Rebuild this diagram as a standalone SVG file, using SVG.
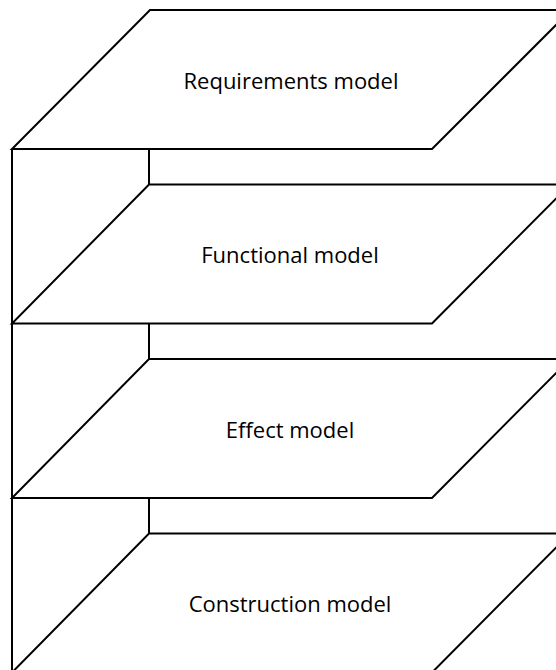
<svg xmlns="http://www.w3.org/2000/svg" width="556" height="670" viewBox="0 0 556 670">
  <style>
    .layer { fill: #ffffff; stroke: #000000; stroke-width: 2; stroke-linejoin: miter; }
    .link { fill: none; stroke: #000000; stroke-width: 2; }
    .label { font-family: "Open Sans", "Liberation Sans", sans-serif; font-size: 22px; fill: #000000; text-anchor: middle; }
  </style>
  <rect width="556" height="670" fill="#ffffff"/>

  <!-- connectors: spine on the left and short drops between layers -->
  <g id="connectors">
    <path class="link" d="M12,149 V672"/>
    <path class="link" d="M149,149 V184.5"/>
    <path class="link" d="M149,323.5 V359"/>
    <path class="link" d="M149,498 V533.5"/>
  </g>

  <g id="requirements">
    <polygon class="layer" points="150,10 571,10 432,149 12,149"/>
    <text class="label" x="291" y="88.5">Requirements model</text>
  </g>

  <g id="functional">
    <polygon class="layer" points="149,184.5 570,184.5 432,323.5 12,323.5"/>
    <text class="label" x="290" y="263">Functional model</text>
  </g>

  <g id="effect">
    <polygon class="layer" points="149,359 570,359 432,498 12,498"/>
    <text class="label" x="290" y="437.5">Effect model</text>
  </g>

  <g id="construction">
    <polygon class="layer" points="149,533.5 570,533.5 432,672.5 12,672.5"/>
    <text class="label" x="290" y="612">Construction model</text>
  </g>
</svg>
